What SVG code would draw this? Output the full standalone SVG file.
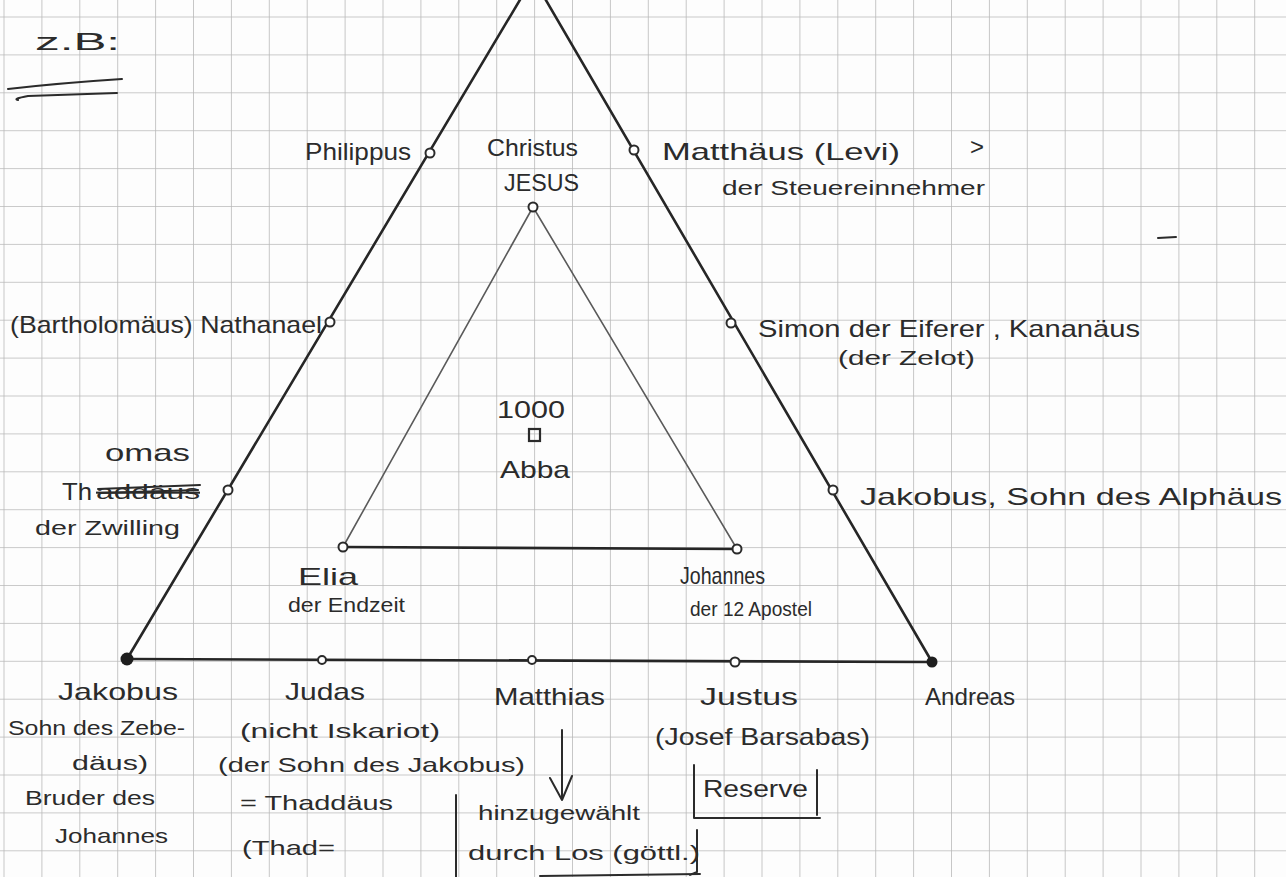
<svg xmlns="http://www.w3.org/2000/svg" width="1286" height="877" viewBox="0 0 1286 877">
<defs>
<pattern id="grid" patternUnits="userSpaceOnUse" x="3.5" y="16.5" width="37.9" height="37.9">
<path d="M0,0 H37.9 M0,0 V37.9" fill="none" stroke="#b9b9b9" stroke-width="1.6"/>
</pattern>
<style>
text{font-family:"Liberation Sans","DejaVu Sans",sans-serif;fill:#2b2b2b;font-size:24px;}
.s{font-size:21px;}
.edge{stroke:#262626;stroke-width:2.6;fill:none;stroke-linecap:round;}
.inner{stroke:#5a5a5a;stroke-width:1.6;fill:none;}
.mark{stroke:#2b2b2b;stroke-width:2;fill:none;stroke-linecap:round;stroke-linejoin:round;}
.dot{stroke:#2b2b2b;stroke-width:2;fill:#fff;}
.fdot{fill:#1e1e1e;}
</style>
</defs>
<rect width="1286" height="877" fill="#fdfdfd"/>
<rect width="1286" height="877" fill="url(#grid)"/>

<g id="header">
<text x="35" y="50" font-size="30" textLength="85" lengthAdjust="spacingAndGlyphs">z.B:</text>
<path class="mark" d="M8,89 Q60,83 122,79"/>
<path class="mark" d="M117,93 L28,96 Q12,99 18,100"/>
<path class="mark" d="M1158,238 L1176,237"/>
</g>

<g id="connectors">
<path class="edge" d="M127,659 L533,-22 L932,662"/>
<path class="edge" d="M127,659 L932,662"/>
<path class="inner" d="M533,207 L343,547 M533,207 L737,549"/>
<path class="edge" d="M343,547 L737,549" stroke-width="2.3"/>
<path class="mark" d="M562,730 L562,800 M550,778 L562,800 L572,776"/>
</g>

<g id="node-jesus">
<circle class="dot" cx="533" cy="207" r="4.5"/>
<text x="487" y="156" textLength="91" lengthAdjust="spacingAndGlyphs">Christus</text>
<text x="504" y="191" textLength="75" lengthAdjust="spacingAndGlyphs">JESUS</text>
</g>

<g id="node-abba">
<rect x="529" y="429" width="11" height="12" fill="none" stroke="#2b2b2b" stroke-width="2.2"/>
<text x="497" y="418" textLength="68" lengthAdjust="spacingAndGlyphs">1000</text>
<text x="500" y="478" textLength="70" lengthAdjust="spacingAndGlyphs">Abba</text>
</g>

<g id="node-philippus">
<circle class="dot" cx="430" cy="153" r="4.5"/>
<text x="305" y="160" textLength="106" lengthAdjust="spacingAndGlyphs">Philippus</text>
</g>

<g id="node-matthaeus">
<circle class="dot" cx="634" cy="150" r="4.5"/>
<text x="662" y="160" textLength="238" lengthAdjust="spacingAndGlyphs">Matthäus (Levi)</text>
<text x="970" y="155">&gt;</text>
<text x="722" y="195" class="s" textLength="263" lengthAdjust="spacingAndGlyphs">der Steuereinnehmer</text>
</g>

<g id="node-nathanael">
<circle class="dot" cx="330" cy="322" r="4.5"/>
<text x="10" y="333" textLength="312" lengthAdjust="spacingAndGlyphs">(Bartholomäus) Nathanael</text>
</g>

<g id="node-simon">
<circle class="dot" cx="731" cy="323" r="4.5"/>
<text x="758" y="337" textLength="382" lengthAdjust="spacingAndGlyphs">Simon der Eiferer , Kananäus</text>
<text x="838" y="365" class="s" textLength="137" lengthAdjust="spacingAndGlyphs">(der Zelot)</text>
</g>

<g id="node-thomas">
<circle class="dot" cx="228" cy="490" r="4.5"/>
<text x="105" y="461" textLength="85" lengthAdjust="spacingAndGlyphs">omas</text>
<text x="62" y="500" textLength="30" lengthAdjust="spacingAndGlyphs">Th</text>
<text x="96" y="499" class="s" textLength="104" lengthAdjust="spacingAndGlyphs" text-decoration="line-through">addäus</text>
<path class="mark" d="M98,489 L200,485 M100,493 L198,490"/>
<text x="35" y="535" class="s" textLength="145" lengthAdjust="spacingAndGlyphs">der Zwilling</text>
</g>

<g id="node-jakobus-alphaeus">
<circle class="dot" cx="833" cy="490" r="4.5"/>
<text x="860" y="505" textLength="422" lengthAdjust="spacingAndGlyphs">Jakobus, Sohn des Alphäus</text>
</g>

<g id="node-elia">
<circle class="dot" cx="343" cy="547" r="4.5"/>
<text x="298" y="585" textLength="60" lengthAdjust="spacingAndGlyphs">Elia</text>
<text x="288" y="612" class="s" textLength="117" lengthAdjust="spacingAndGlyphs">der Endzeit</text>
</g>

<g id="node-johannes">
<circle class="dot" cx="737" cy="549" r="4.5"/>
<text x="680" y="584" textLength="85" lengthAdjust="spacingAndGlyphs">Johannes</text>
<text x="690" y="616" class="s" textLength="122" lengthAdjust="spacingAndGlyphs">der 12 Apostel</text>
</g>

<g id="node-jakobus-zebedaeus">
<circle class="fdot" cx="127" cy="659" r="6.5"/>
<text x="58" y="700" textLength="120" lengthAdjust="spacingAndGlyphs">Jakobus</text>
<text x="8" y="735" class="s" textLength="177" lengthAdjust="spacingAndGlyphs">Sohn des Zebe-</text>
<text x="72" y="770" class="s" textLength="76" lengthAdjust="spacingAndGlyphs">däus)</text>
<text x="25" y="805" class="s" textLength="130" lengthAdjust="spacingAndGlyphs">Bruder des</text>
<text x="55" y="843" class="s" textLength="113" lengthAdjust="spacingAndGlyphs">Johannes</text>
</g>

<g id="node-judas">
<circle class="dot" cx="322" cy="660" r="4"/>
<text x="285" y="700" textLength="80" lengthAdjust="spacingAndGlyphs">Judas</text>
<text x="240" y="738" class="s" textLength="200" lengthAdjust="spacingAndGlyphs">(nicht Iskariot)</text>
<text x="218" y="772" class="s" textLength="307" lengthAdjust="spacingAndGlyphs">(der Sohn des Jakobus)</text>
<text x="240" y="810" class="s" textLength="153" lengthAdjust="spacingAndGlyphs">= Thaddäus</text>
<text x="242" y="855" class="s" textLength="93" lengthAdjust="spacingAndGlyphs">(Thad=</text>
</g>

<g id="node-matthias">
<circle class="dot" cx="532" cy="660" r="4"/>
<text x="494" y="705" textLength="111" lengthAdjust="spacingAndGlyphs">Matthias</text>
<text x="478" y="820" class="s" textLength="162" lengthAdjust="spacingAndGlyphs">hinzugewählt</text>
<text x="468" y="860" class="s" textLength="232" lengthAdjust="spacingAndGlyphs">durch Los (göttl.)</text>
<path class="mark" d="M456,795 L456,877 M697,830 L697,872 L690,875 M540,876 L700,874"/>
</g>

<g id="node-justus">
<circle class="dot" cx="735" cy="662" r="4.5"/>
<text x="700" y="705" textLength="98" lengthAdjust="spacingAndGlyphs">Justus</text>
<text x="655" y="745" textLength="215" lengthAdjust="spacingAndGlyphs">(Josef Barsabas)</text>
<text x="703" y="797" textLength="105" lengthAdjust="spacingAndGlyphs">Reserve</text>
<path class="mark" d="M694,765 L694,818 L820,818 M817,770 L817,815"/>
</g>

<g id="node-andreas">
<circle class="fdot" cx="932" cy="662" r="5.5"/>
<text x="925" y="705" textLength="90" lengthAdjust="spacingAndGlyphs">Andreas</text>
</g>
</svg>
